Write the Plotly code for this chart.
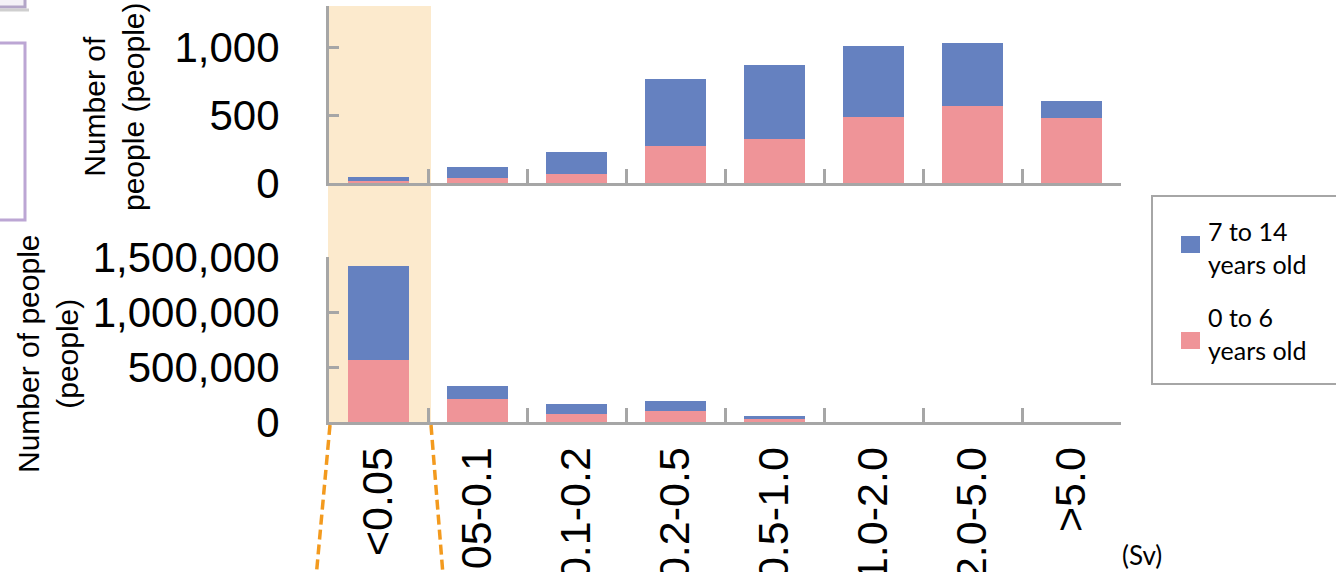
import plotly.graph_objects as go

# ---------------- data ----------------
categories = ["<0.05", "0.05-0.1", "0.1-0.2", "0.2-0.5", "0.5-1.0", "1.0-2.0", "2.0-5.0", ">5.0"]
series_names = ["0 to 6 years old", "7 to 14 years old"]
legend_labels = ["7 to 14<br>years old", "0 to 6<br>years old"]

# upper panel (people)
young_top = [15, 37, 68, 272, 326, 483, 566, 478]
older_top = [30, 78, 162, 495, 547, 526, 468, 125]
# lower panel (people)
young_bottom = [560000, 210000, 76000, 100000, 30000, 0, 0, 0]
older_bottom = [854000, 116000, 91000, 92000, 28000, 0, 0, 0]

top_ticks = [0, 500, 1000]
bottom_ticks = [0, 500000, 1000000, 1500000]

# ---------------- style ----------------
W, H = 1336, 572
BLUE = "#6581C0"
PINK = "#EF9498"
GRAY = "#A6A6A6"
HILITE = "#FCEACD"
ORANGE = "#F39A1E"
TICKFONT = dict(family="Liberation Sans, Arial", size=42, color="black")
XTICKFONT = dict(family="Liberation Sans, Arial", size=43, color="black")
LEGFONT = dict(family="Lato, Open Sans", size=25, color="black")


def px(x):
    return x / W


def py(y):
    return 1 - y / H


fig = go.Figure()

for xa, ya, young, older in [("x", "y", young_top, older_top), ("x2", "y2", young_bottom, older_bottom)]:
    fig.add_trace(go.Bar(x=categories, y=young, name=series_names[0], marker=dict(color=PINK, line=dict(width=0)),
                         xaxis=xa, yaxis=ya, showlegend=False))
    fig.add_trace(go.Bar(x=categories, y=older, name=series_names[1], marker=dict(color=BLUE, line=dict(width=0)),
                         xaxis=xa, yaxis=ya, showlegend=False))

xdom = [px(329), px(1121)]
axis_common = dict(showline=True, linecolor=GRAY, linewidth=3, ticks="inside", tickcolor=GRAY,
                   tickwidth=3, showgrid=False, zeroline=False)

fig.update_layout(
    width=W, height=H,
    margin=dict(l=0, r=0, t=0, b=0),
    paper_bgcolor="white", plot_bgcolor="rgba(0,0,0,0)",
    barmode="stack", bargap=0.38,
    showlegend=False,
    xaxis=dict(domain=xdom, anchor="y", showticklabels=False, tickson="boundaries", ticklen=14,
               automargin=False, **axis_common),
    xaxis2=dict(domain=xdom, anchor="y2", tickson="boundaries", ticklen=14, tickangle=-90,
                tickfont=XTICKFONT, ticklabelstandoff=5, automargin=False, **axis_common),
    yaxis=dict(domain=[py(183), py(6)], anchor="x", range=[0, 1305], tickvals=top_ticks,
               tickformat=",", ticklen=10, tickfont=TICKFONT, ticklabelstandoff=38, automargin=False,
               **axis_common),
    yaxis2=dict(domain=[py(422), py(257)], anchor="x2", range=[0, 1500000], tickvals=bottom_ticks,
                tickformat=",", ticklen=10, tickfont=TICKFONT, ticklabelstandoff=38, automargin=False,
                **axis_common),
)

shapes = []
# highlight band for first category spanning both panels
shapes.append(dict(type="rect", xref="paper", yref="paper", x0=px(328), x1=px(431), y0=py(422), y1=py(6),
                   fillcolor=HILITE, line=dict(width=0), layer="below"))
# dashed orange guide lines
shapes.append(dict(type="line", xref="paper", yref="paper", x0=px(330), y0=py(425), x1=px(314), y1=py(600),
                   line=dict(color=ORANGE, width=3.5, dash="10px,5px")))
shapes.append(dict(type="line", xref="paper", yref="paper", x0=px(431), y0=py(425), x1=px(445), y1=py(600),
                   line=dict(color=ORANGE, width=3.5, dash="10px,5px")))
# left-edge fragments of neighbouring slide elements
shapes.append(dict(type="rect", xref="paper", yref="paper", x0=px(-20), x1=px(25), y0=py(220), y1=py(43),
                   line=dict(color="#BCA6D4", width=3), fillcolor="rgba(0,0,0,0)"))
shapes.append(dict(type="rect", xref="paper", yref="paper", x0=px(-20), x1=px(25), y0=py(7), y1=py(-30),
                   line=dict(color="#B3A6C8", width=3), fillcolor="#F4F2F7"))
shapes.append(dict(type="line", xref="paper", yref="paper", x0=px(0), x1=px(29), y0=py(10), y1=py(10),
                   line=dict(color="#CFCFCF", width=3)))
# legend box
shapes.append(dict(type="rect", xref="paper", yref="paper", x0=px(1152), x1=px(1345), y0=py(384), y1=py(196),
                   line=dict(color=GRAY, width=2), fillcolor="white"))
# legend swatches
shapes.append(dict(type="rect", xref="paper", yref="paper", x0=px(1181), x1=px(1200), y0=py(253), y1=py(236),
                   line=dict(width=0), fillcolor=BLUE))
shapes.append(dict(type="rect", xref="paper", yref="paper", x0=px(1181), x1=px(1200), y0=py(349), y1=py(332),
                   line=dict(width=0), fillcolor=PINK))
fig.update_layout(shapes=shapes)

annotations = [
    dict(text="Number of<br>people (people)", x=px(114), y=py(107), xref="paper", yref="paper",
         textangle=-90, showarrow=False, xanchor="center", yanchor="middle",
         font=dict(family="Liberation Sans, Arial", size=30, color="black")),
    dict(text="Number of people<br>(people)", x=px(48), y=py(354), xref="paper", yref="paper",
         textangle=-90, showarrow=False, xanchor="center", yanchor="middle",
         font=dict(family="Liberation Sans, Arial", size=30, color="black")),
    dict(text=legend_labels[0], x=px(1206), y=py(248), xref="paper", yref="paper", showarrow=False,
         xanchor="left", yanchor="middle", align="left", font=LEGFONT),
    dict(text=legend_labels[1], x=px(1206), y=py(333), xref="paper", yref="paper", showarrow=False,
         xanchor="left", yanchor="middle", align="left", font=LEGFONT),
    dict(text="(Sv)", x=px(1142), y=py(555), xref="paper", yref="paper", showarrow=False,
         xanchor="center", yanchor="middle", font=dict(family="Lato, Open Sans", size=26, color="black")),
]
fig.update_layout(annotations=annotations)

fig.write_html("out.html", config={"displayModeBar": False},
               post_script="document.body.style.margin='0';document.body.style.overflow='hidden';")
